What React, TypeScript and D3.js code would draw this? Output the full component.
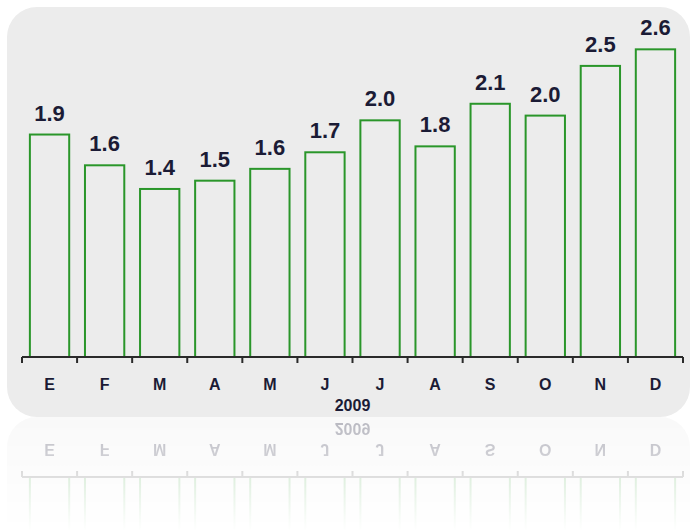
import React from 'react';
import * as d3 from 'd3';

// monthly values, 2009 (Spanish month initials); labels show one decimal
const months = ['E', 'F', 'M', 'A', 'M', 'J', 'J', 'A', 'S', 'O', 'N', 'D'];
const values = [1.88, 1.62, 1.42, 1.49, 1.59, 1.73, 2.0, 1.78, 2.14, 2.04, 2.46, 2.6];
const yearLabel = '2009';
const yMax = 3;

const W = 691;
const H = 531;
const FONT = "Arial, 'Liberation Sans', sans-serif";
const TEXT = '#1b1b35';
const GREEN = '#2a962a';

const panel = { x: 7, y: 7, w: 683, h: 410, r: 30 };
const plot = { left: 22, right: 683, base: 357, top: 2 };

function ChartBody({ mirror = false }: { mirror?: boolean }) {
  const idx = months.map((_, i) => i);
  const x = d3
    .scaleBand<number>()
    .domain(idx)
    .range([plot.left, plot.right])
    .paddingInner(0.25)
    .paddingOuter(0.125);

  const y = d3.scaleLinear().domain([0, yMax]).range([plot.base, plot.top]);

  const step = x.step();
  const ticks = d3.range(months.length + 1).map((i) => plot.left + i * step);

  return (
    <g>
      <rect
        x={panel.x}
        y={panel.y}
        width={panel.w}
        height={panel.h}
        rx={panel.r}
        ry={panel.r}
        fill='#ececec'
      />
      <g className='bars'>
        {values.map((v, i) => (
          <rect
            key={i}
            x={(x(i) as number) + 1}
            y={y(v)}
            width={x.bandwidth() - 2}
            height={plot.base - y(v)}
            fill='none'
            stroke={GREEN}
            strokeWidth={2}
          />
        ))}
      </g>
      <g className='x-axis'>
        <line
          x1={plot.left}
          x2={plot.right}
          y1={plot.base}
          y2={plot.base}
          stroke='#2a2a2a'
          strokeWidth={2}
        />
        {ticks.map((t, i) => (
          <line
            key={i}
            x1={t}
            x2={t}
            y1={plot.base}
            y2={plot.base + 6}
            stroke='#2a2a2a'
            strokeWidth={2}
          />
        ))}
        {months.map((m, i) => (
          <text
            key={i}
            x={(x(i) as number) + x.bandwidth() / 2}
            y={plot.base + 33}
            textAnchor='middle'
            fontFamily={FONT}
            fontWeight='bold'
            fontSize={16}
            fill={TEXT}
          >
            {m}
          </text>
        ))}
        <text
          x={(plot.left + plot.right) / 2}
          y={plot.base + 54}
          textAnchor='middle'
          fontFamily={FONT}
          fontWeight='bold'
          fontSize={16}
          fill={TEXT}
        >
          {yearLabel}
        </text>
      </g>
      {!mirror && (
        <g className='labels'>
          {values.map((v, i) => (
            <text
              key={i}
              x={(x(i) as number) + x.bandwidth() / 2}
              y={y(v) - 14}
              textAnchor='middle'
              fontFamily={FONT}
              fontWeight='bold'
              fontSize={22}
              fill={TEXT}
            >
              {d3.format('.1f')(v)}
            </text>
          ))}
        </g>
      )}
    </g>
  );
}

export default function App() {
  const mirrorY = panel.y + panel.h;
  return (
    <svg
      width={W}
      height={H}
      style={{ position: 'absolute', left: 0, top: 0, background: '#fff' }}
    >
      <defs>
        <linearGradient id='fadeGrad' x1='0' y1='0' x2='0' y2='1'>
          <stop offset='0' stopColor='#fff' stopOpacity={0.32} />
          <stop offset='1' stopColor='#fff' stopOpacity={0} />
        </linearGradient>
        <mask id='fade' maskUnits='userSpaceOnUse' x={0} y={mirrorY} width={W} height={H - mirrorY}>
          <rect x={0} y={mirrorY} width={W} height={H - mirrorY} fill='url(#fadeGrad)' />
        </mask>
      </defs>
      <rect width={W} height={H} fill='#fff' />
      <ChartBody />
      <g mask='url(#fade)'>
        <g transform={`translate(0, ${2 * mirrorY}) scale(1, -1)`}>
          <ChartBody mirror />
        </g>
      </g>
    </svg>
  );
}
